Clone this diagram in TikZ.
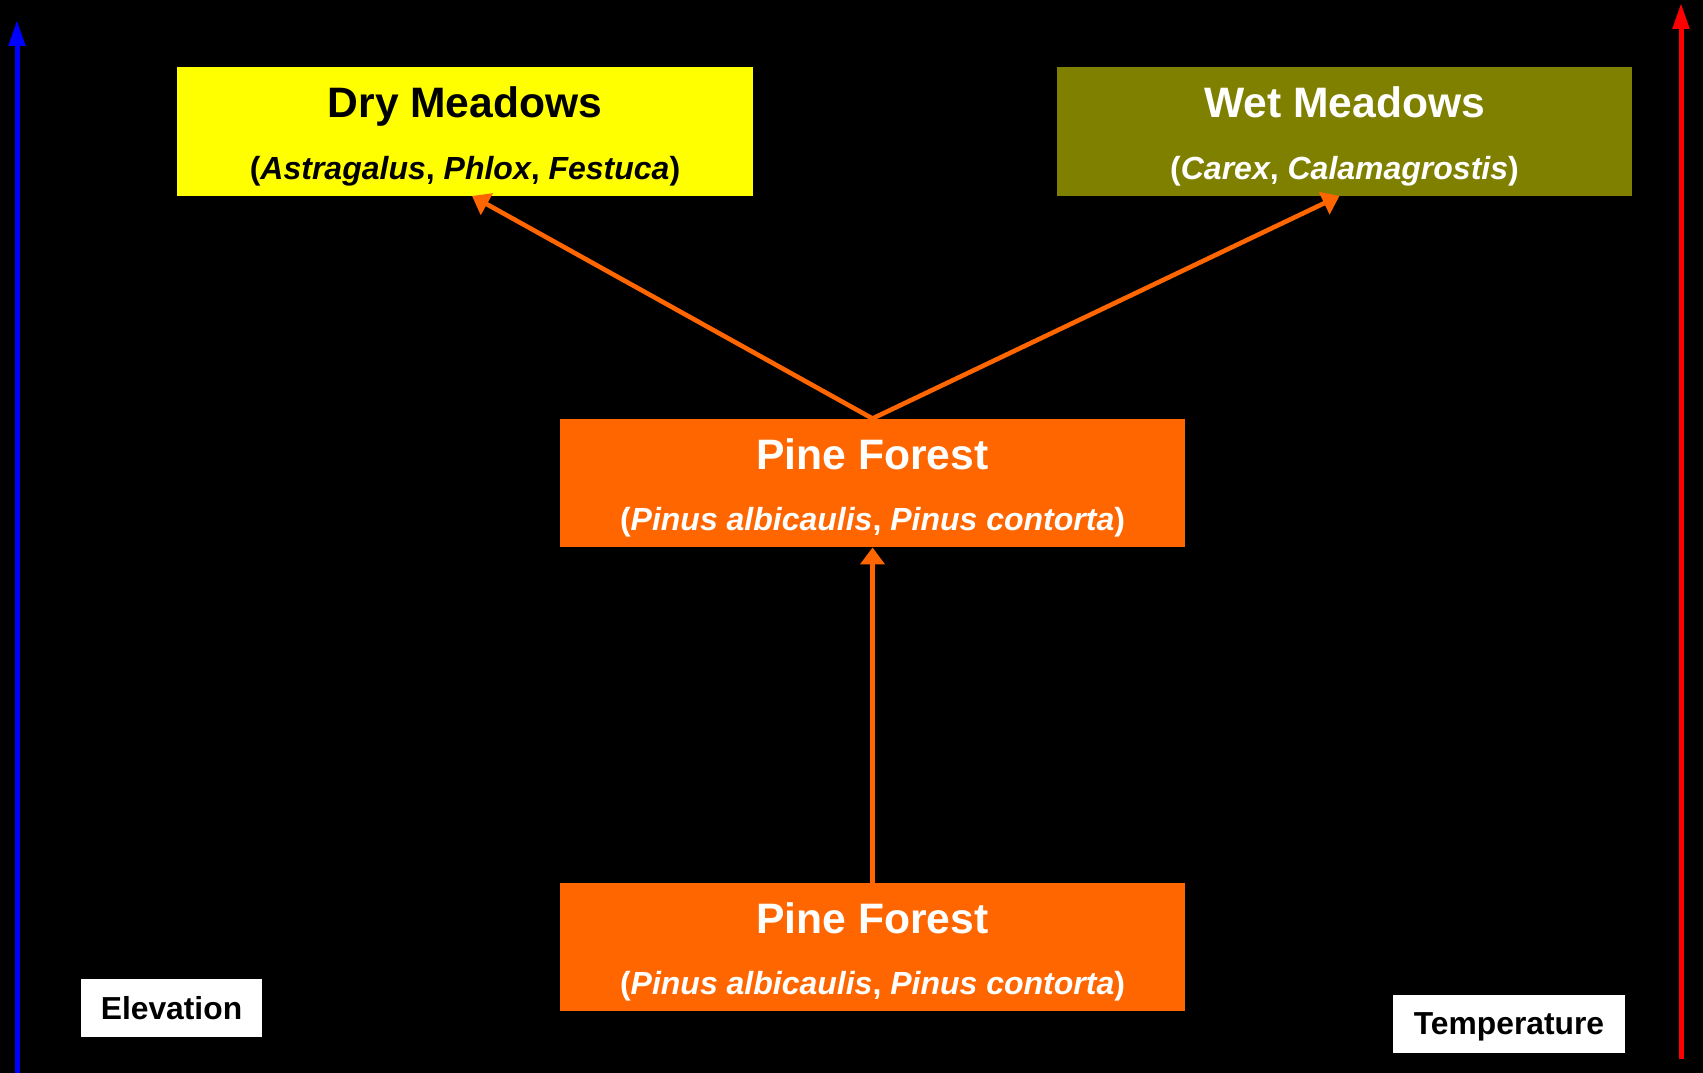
\documentclass[tikz,border=0pt]{standalone}
\usepackage{fontspec}
\setmainfont{Liberation Sans}
\usetikzlibrary{arrows.meta}
\definecolor{pineorange}{HTML}{FF6600}
\definecolor{wetolive}{HTML}{808000}
\definecolor{dryyellow}{HTML}{FFFF00}
\tikzset{
  x=1pt, y=1pt,
  zonebox/.style={draw=none, minimum height=128.5pt, inner sep=0pt},
  zonetitle/.style={anchor=base, font=\fontsize{42.6}{48}\selectfont\bfseries, inner sep=0pt},
  zonesub/.style={anchor=base, font=\fontsize{32}{38}\selectfont\bfseries, inner sep=0pt},
  axislabel/.style={fill=white, text=black, minimum height=58pt, inner sep=0pt,
    font=\fontsize{31.8}{36}\selectfont\bfseries, text depth=0pt},
  succession/.style={draw=pineorange, line width=4.6pt, -{Triangle[length=17pt,width=24pt]}},
  axis/.style={line width=5pt, -{Triangle[length=26pt,width=16pt]}}
}
\begin{document}
\begin{tikzpicture}
  \fill[black] (0,0) rectangle (1703,1073);
  \useasboundingbox (0,0) rectangle (1703,1073);

  % gradient axes
  \coordinate (elevbase) at (17,0);
  \coordinate (elevtop) at (17,1053);
  \coordinate (tempbase) at (1681,14);
  \coordinate (temptop) at (1681,1070);
  \draw[axis, blue] (elevbase) -- (elevtop);
  \draw[axis, red] (tempbase) -- (temptop);

  % vegetation zones
  \node[zonebox, fill=dryyellow, minimum width=576pt] (dry) at (465,941.5) {};
  \node[zonebox, fill=wetolive, minimum width=575pt] (wet) at (1344.5,941.5) {};
  \node[zonebox, fill=pineorange, minimum width=625pt] (pinemid) at (872.5,590) {};
  \node[zonebox, fill=pineorange, minimum width=625pt] (pinelow) at (872.5,126) {};

  \node[zonetitle, text=black] (drytitle) at (465,955) {Dry Meadows};
  \node[zonesub, text=black] (drysub) at (465,893.5)
    {(\textit{Astragalus}, \textit{Phlox}, \textit{Festuca})};
  \node[zonetitle, text=white] (wettitle) at (1344.5,955) {Wet Meadows};
  \node[zonesub, text=white] (wetsub) at (1344.5,893.5)
    {(\textit{Carex}, \textit{Calamagrostis})};
  \node[zonetitle, text=white] (midtitle) at (872.5,603) {Pine Forest};
  \node[zonesub, text=white] (midsub) at (872.5,542)
    {(\textit{Pinus albicaulis}, \textit{Pinus contorta})};
  \node[zonetitle, text=white] (lowtitle) at (872.5,139) {Pine Forest};
  \node[zonesub, text=white] (lowsub) at (872.5,78)
    {(\textit{Pinus albicaulis}, \textit{Pinus contorta})};

  % axis labels
  \node[axislabel, minimum width=181pt] (elev) at (171.5,65) {Elevation};
  \node[axislabel, minimum width=232pt] (temp) at (1509,49) {Temperature};

  % transitions
  \draw[succession] (pinelow.north) -- (pinemid.south);
  \draw[succession] (pinemid.north) -- ([xshift=7pt]dry.south);
  \draw[succession] (pinemid.north) -- ([xshift=-5pt]wet.south);
\end{tikzpicture}
\end{document}
